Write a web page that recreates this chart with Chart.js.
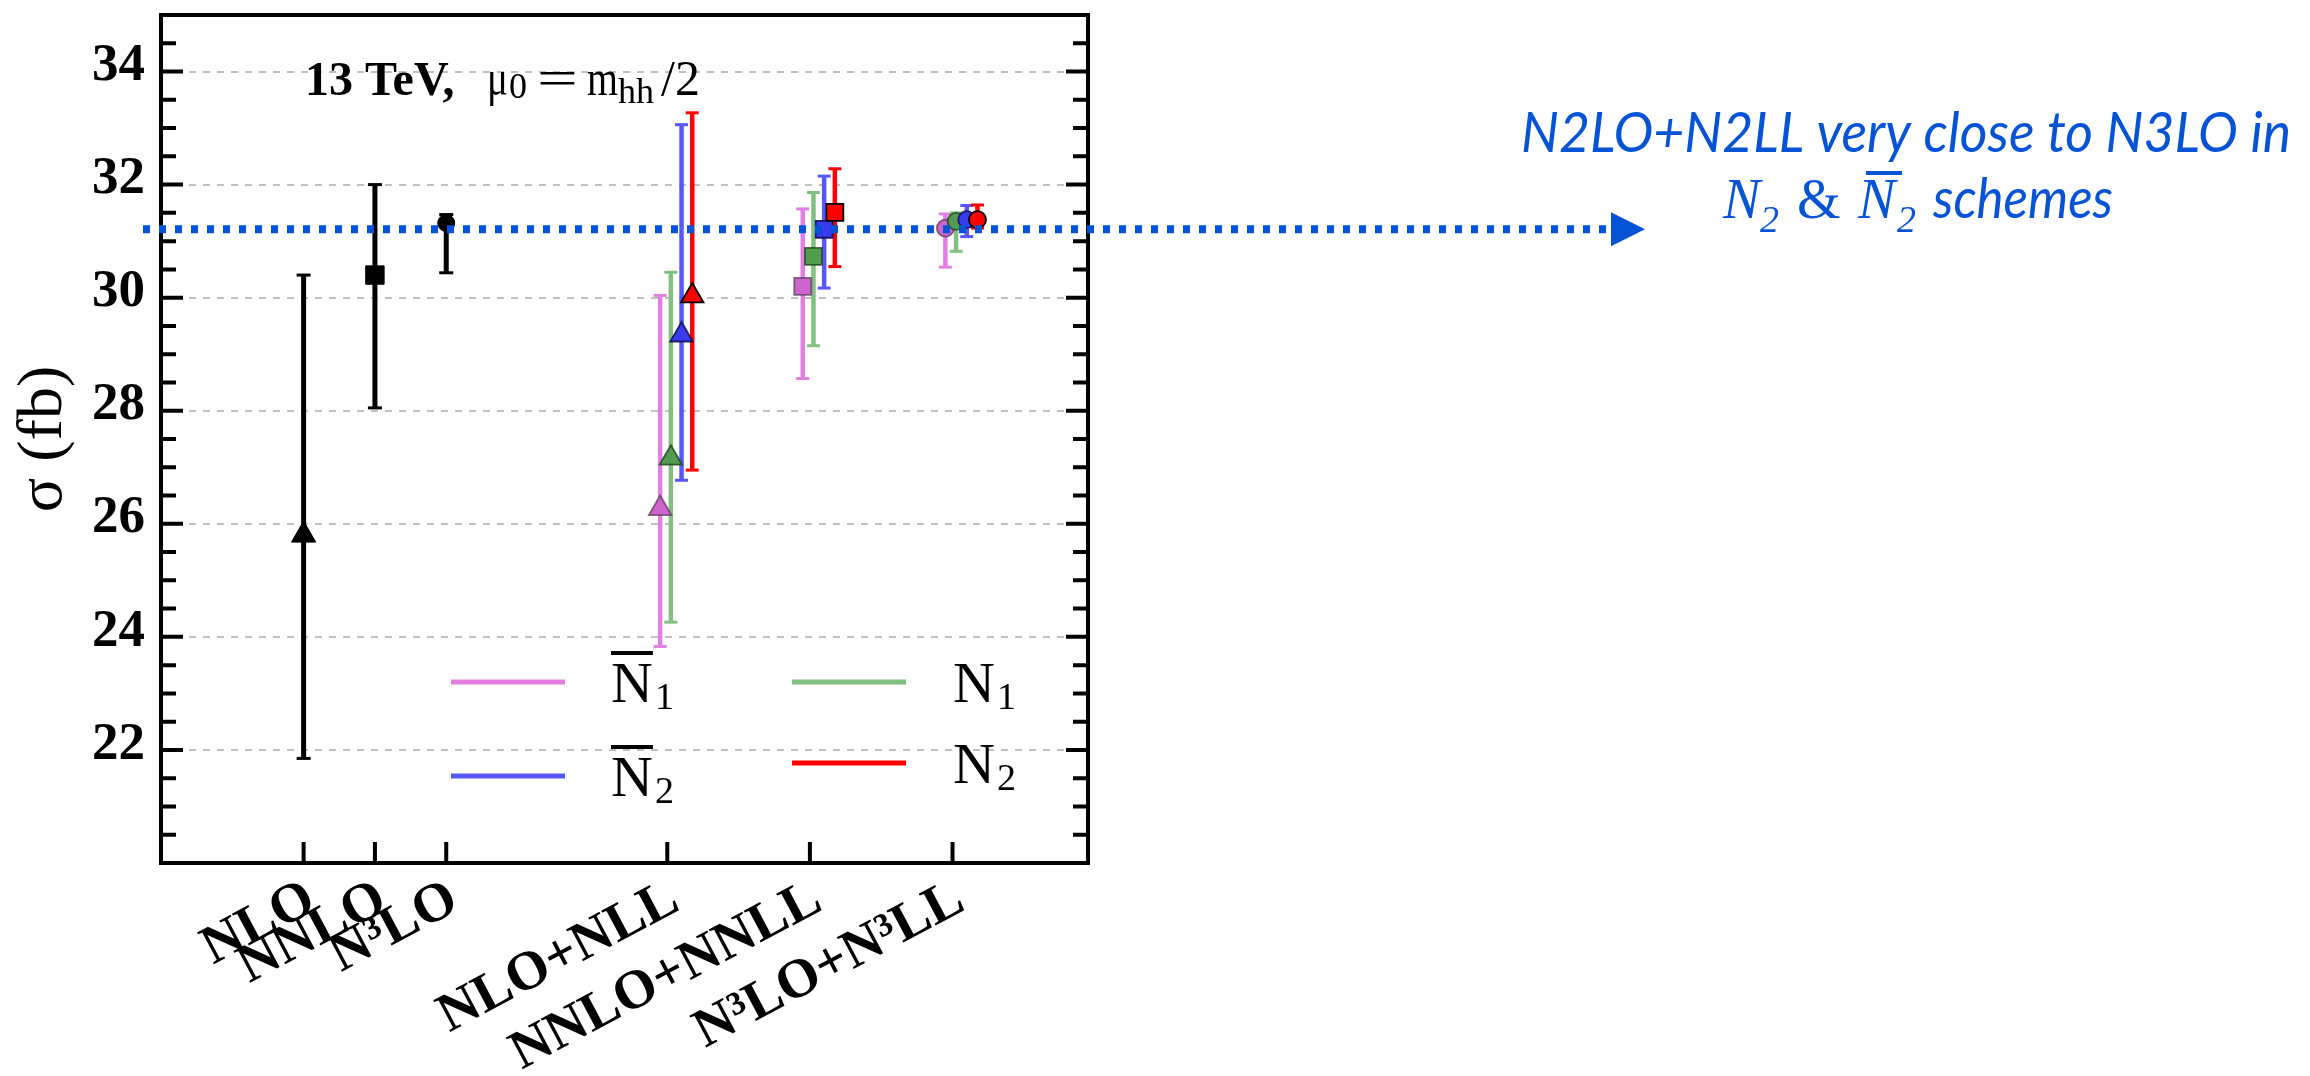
<!DOCTYPE html>
<html>
<head>
<meta charset="utf-8">
<script src="https://cdn.jsdelivr.net/npm/chart.js@4.4.1/dist/chart.umd.min.js"></script>
<style>
  html, body { margin: 0; padding: 0; background: #ffffff; }
  #wrap { width: 2310px; height: 1076px; position: relative; }
</style>
</head>
<body>
<div id="wrap"><canvas id="c" width="2310" height="1076"></canvas></div>
<script>
// ---- data -------------------------------------------------------------
// Perturbative orders on the x axis and where they sit
const orderLabels = ['NLO', 'NNLO', 'N³LO', 'NLO+NLL', 'NNLO+NNLL', 'N³LO+N³LL'];
const orderPositions = [1, 1.5, 2, 3.55, 4.55, 5.55];

// Fixed-order cross sections, sigma in fb (central, lower, upper)
const fixedX = [1, 1.5, 2];
const fixedCentral = [25.8, 30.4, 31.32];
const fixedLow = [21.85, 28.05, 30.44];
const fixedHigh = [30.4, 32.0, 31.47];

// Matched fixed order + resummation, one entry per matched order
const matchedX = [3.55, 4.55, 5.55];

const nBar1Central = [26.27, 30.20, 31.23];
const nBar1Low = [23.83, 28.57, 30.54];
const nBar1High = [30.04, 31.57, 31.48];

const n1Central = [27.16, 30.73, 31.35];
const n1Low = [24.26, 29.15, 30.82];
const n1High = [30.45, 31.86, 31.50];

const nBar2Central = [29.34, 31.21, 31.38];
const nBar2Low = [26.77, 30.17, 31.08];
const nBar2High = [33.06, 32.15, 31.63];

const n2Central = [30.03, 31.51, 31.38];
const n2Low = [26.95, 30.55, 31.23];
const n2High = [33.27, 32.28, 31.64];

// Level marked by the dotted arrow
const referenceLevel = 31.21;

// Labelled y ticks
const yTickValues = [22, 24, 26, 28, 30, 32, 34];

// ---- styling ----------------------------------------------------------
const SERIF = "'Liberation Serif', 'Times New Roman', serif";
const SANS_IT = "italic 56px Lato, 'Open Sans', sans-serif";
const BLUE = '#0653d6';
const markerStyles = ['triangle', 'rect', 'circle'];

const schemes = [
  { name: 'N̄1', base: 'N', sub: '1', bar: true,  central: nBar1Central, low: nBar1Low, high: nBar1High,
    dx: -0.05, line: 'rgb(226,128,226)', fill: 'rgb(206,100,206)', edge: 'rgba(90,60,90,0.75)', z: 4,
    legend: { x: 451, y: 682, tx: 611 } },
  { name: 'N1',  base: 'N', sub: '1', bar: false, central: n1Central, low: n1Low, high: n1High,
    dx: 0.025, line: 'rgb(128,192,128)', fill: 'rgb(82,156,82)', edge: 'rgba(30,70,30,0.8)', z: 3,
    legend: { x: 792, y: 682, tx: 953 } },
  { name: 'N̄2', base: 'N', sub: '2', bar: true,  central: nBar2Central, low: nBar2Low, high: nBar2High,
    dx: 0.1, line: 'rgb(88,88,246)', fill: 'rgb(58,58,238)', edge: 'rgba(20,20,90,0.9)', z: 2,
    legend: { x: 451, y: 776, tx: 611 } },
  { name: 'N2',  base: 'N', sub: '2', bar: false, central: n2Central, low: n2Low, high: n2High,
    dx: 0.175, line: 'rgb(255,0,0)', fill: 'rgb(255,0,0)', edge: '#000000', z: 1,
    legend: { x: 792, y: 763, tx: 953 } }
];

// ---- dataset builders -------------------------------------------------
function errorData(xs, lo, hi, dx) {
  const d = [];
  xs.forEach((x, i) => {
    d.push({ x: x + dx, y: lo[i] }, { x: x + dx, y: hi[i] }, { x: x + dx, y: null });
  });
  return d;
}
function pointData(xs, ys, dx) {
  return xs.map((x, i) => ({ x: x + dx, y: ys[i] }));
}
function errorSet(label, data, color, width, cap, order) {
  return {
    type: 'line', label, data, showLine: true, spanGaps: false, fill: false,
    borderColor: color, borderWidth: width, backgroundColor: color,
    pointStyle: 'line', pointRadius: cap, pointHoverRadius: cap,
    pointBorderColor: color, pointBorderWidth: 3, order
  };
}

const datasets = [];
datasets.push(errorSet('fixed order', errorData(fixedX, fixedLow, fixedHigh, 0), '#000000', 5, 7, 10));
datasets.push({
  type: 'scatter', label: 'fixed order', data: pointData(fixedX, fixedCentral, 0),
  pointStyle: markerStyles, pointRadius: [14, 13, 8.5], pointHoverRadius: [14, 13, 8.5],
  pointBackgroundColor: '#000000', pointBorderColor: '#000000', pointBorderWidth: 1, order: 0
});
schemes.forEach(s => {
  datasets.push(errorSet(s.name, errorData(matchedX, s.low, s.high, s.dx), s.line, 4.5, 6.5, 10 + s.z));
  datasets.push({
    type: 'scatter', label: s.name, data: pointData(matchedX, s.central, s.dx),
    pointStyle: markerStyles, pointRadius: [13, 12, 8.5], pointHoverRadius: [13, 12, 8.5],
    pointBackgroundColor: s.fill, pointBorderColor: s.edge, pointBorderWidth: 1.8, order: s.z
  });
});

// ---- decorations: frame, inward ticks, arrow, texts, legend ----------
function zeroPadding(s) {
  s.paddingLeft = 0; s.paddingRight = 0; s.paddingTop = 0; s.paddingBottom = 0;
}

const decor = {
  id: 'decor',
  afterDatasetsDraw(chart) {
    const { ctx, chartArea: a, scales: { x, y } } = chart;
    ctx.save();

    // inward tick marks on left, right and bottom
    ctx.strokeStyle = '#000000';
    ctx.lineWidth = 4;
    ctx.beginPath();
    for (let v = y.min + 0.5; v < y.max; v += 0.5) {
      const len = yTickValues.includes(v) ? 22 : 15;
      const py = y.getPixelForValue(v);
      ctx.moveTo(a.left, py); ctx.lineTo(a.left + len, py);
      ctx.moveTo(a.right, py); ctx.lineTo(a.right - len, py);
    }
    orderPositions.forEach(v => {
      const px = x.getPixelForValue(v);
      ctx.moveTo(px, a.bottom); ctx.lineTo(px, a.bottom - 21);
    });
    ctx.stroke();

    // frame
    ctx.lineWidth = 4;
    ctx.strokeRect(a.left, a.top, a.right - a.left, a.bottom - a.top);

    // title inside the frame
    ctx.fillStyle = '#000000';
    ctx.textAlign = 'left';
    ctx.textBaseline = 'alphabetic';
    const tb = 95;
    ctx.font = `bold 48px ${SERIF}`;
    ctx.fillText('13 TeV,', 305, tb);
    ctx.font = `50px ${SERIF}`;
    ctx.fillText('μ', 487, tb, 21);
    ctx.font = `36px ${SERIF}`;
    ctx.fillText('0', 509, tb + 3, 20);
    ctx.save();
    ctx.translate(537, tb);
    ctx.scale(1.45, 1);
    ctx.font = `50px ${SERIF}`;
    ctx.fillText('=', 0, 0);
    ctx.restore();
    ctx.font = `50px ${SERIF}`;
    ctx.fillText('m', 587, tb, 31);
    ctx.font = `36px ${SERIF}`;
    ctx.fillText('hh', 618, tb + 8, 43);
    ctx.font = `50px ${SERIF}`;
    ctx.fillText('/2', 661, tb, 40);

    // legend
    schemes.forEach(s => {
      const L = s.legend;
      ctx.strokeStyle = s.line;
      ctx.lineWidth = 5;
      ctx.beginPath();
      ctx.moveTo(L.x, L.y); ctx.lineTo(L.x + 114, L.y);
      ctx.stroke();
      ctx.fillStyle = '#000000';
      ctx.font = `58px ${SERIF}`;
      ctx.fillText(s.base, L.tx, L.y + 19.5);
      const wN = ctx.measureText(s.base).width;
      if (s.bar) {
        ctx.fillRect(L.tx, L.y - 31, wN, 4);
      }
      ctx.font = `38px ${SERIF}`;
      ctx.fillText(s.sub, L.tx + wN + 2, L.y + 27);
    });

    // dotted arrow at the reference level
    const ry = y.getPixelForValue(referenceLevel);
    ctx.strokeStyle = BLUE;
    ctx.lineWidth = 8;
    ctx.setLineDash([7, 9]);
    ctx.beginPath();
    ctx.moveTo(a.left - 18, ry);
    ctx.lineTo(1609, ry);
    ctx.stroke();
    ctx.setLineDash([]);
    ctx.fillStyle = BLUE;
    ctx.beginPath();
    ctx.moveTo(1611, ry - 17);
    ctx.lineTo(1645, ry);
    ctx.lineTo(1611, ry + 17);
    ctx.closePath();
    ctx.fill();

    // annotation
    ctx.fillStyle = BLUE;
    ctx.textAlign = 'center';
    ctx.font = SANS_IT;
    ctx.fillText('N2LO+N2LL very close to N3LO in', 1906, 152, 770);

    ctx.textAlign = 'left';
    const b2 = 218;
    ctx.font = `italic 56px ${SERIF}`;
    ctx.fillText('N', 1723, b2);
    ctx.font = `italic 38px ${SERIF}`;
    ctx.fillText('2', 1760, b2 + 14);
    ctx.font = `56px ${SERIF}`;
    ctx.fillText('&', 1797, b2);
    ctx.font = `italic 56px ${SERIF}`;
    ctx.fillText('N', 1858, b2);
    ctx.fillRect(1866, 171, 36, 4);
    ctx.font = `italic 38px ${SERIF}`;
    ctx.fillText('2', 1897, b2 + 14);
    ctx.font = SANS_IT;
    ctx.fillText('schemes', 1933, b2, 180);

    ctx.restore();
  }
};

Chart.defaults.color = '#000000';

new Chart(document.getElementById('c'), {
  type: 'scatter',
  data: { datasets },
  options: {
    responsive: false,
    maintainAspectRatio: false,
    devicePixelRatio: 1,
    animation: false,
    events: [],
    layout: { padding: { left: 0, top: 12, right: 1222, bottom: 0 } },
    plugins: { legend: { display: false }, tooltip: { enabled: false } },
    scales: {
      x: {
        type: 'linear', min: 0, max: 6.5,
        grid: { display: false, drawTicks: false },
        border: { display: false },
        afterBuildTicks: s => { s.ticks = orderPositions.map(v => ({ value: v })); },
        afterFit: s => { s.height = 213; zeroPadding(s); },
        ticks: {
          autoSkip: false, minRotation: 28, maxRotation: 28, padding: 4, labelOffset: 8,
          color: '#000000',
          font: { family: SERIF, size: 55, weight: 'bold' },
          callback: (v, i) => orderLabels[i]
        }
      },
      y: {
        type: 'linear', min: 20, max: 35,
        grid: { display: true, drawTicks: false, color: 'rgb(192,192,192)', lineWidth: 2 },
        border: { display: false, dash: [7, 7] },
        afterBuildTicks: s => { s.ticks = yTickValues.map(v => ({ value: v })); },
        afterFit: s => { s.width = 161; zeroPadding(s); },
        ticks: {
          padding: 16, labelOffset: -5, color: '#000000',
          font: { family: SERIF, size: 53, weight: 'bold' },
          callback: v => String(v)
        },
        title: {
          display: true, text: 'σ (fb)', color: '#000000',
          font: { family: SERIF, size: 64, weight: 'normal' },
          padding: { top: 6, bottom: 0 }
        }
      }
    }
  },
  plugins: [decor]
});
</script>
</body>
</html>
